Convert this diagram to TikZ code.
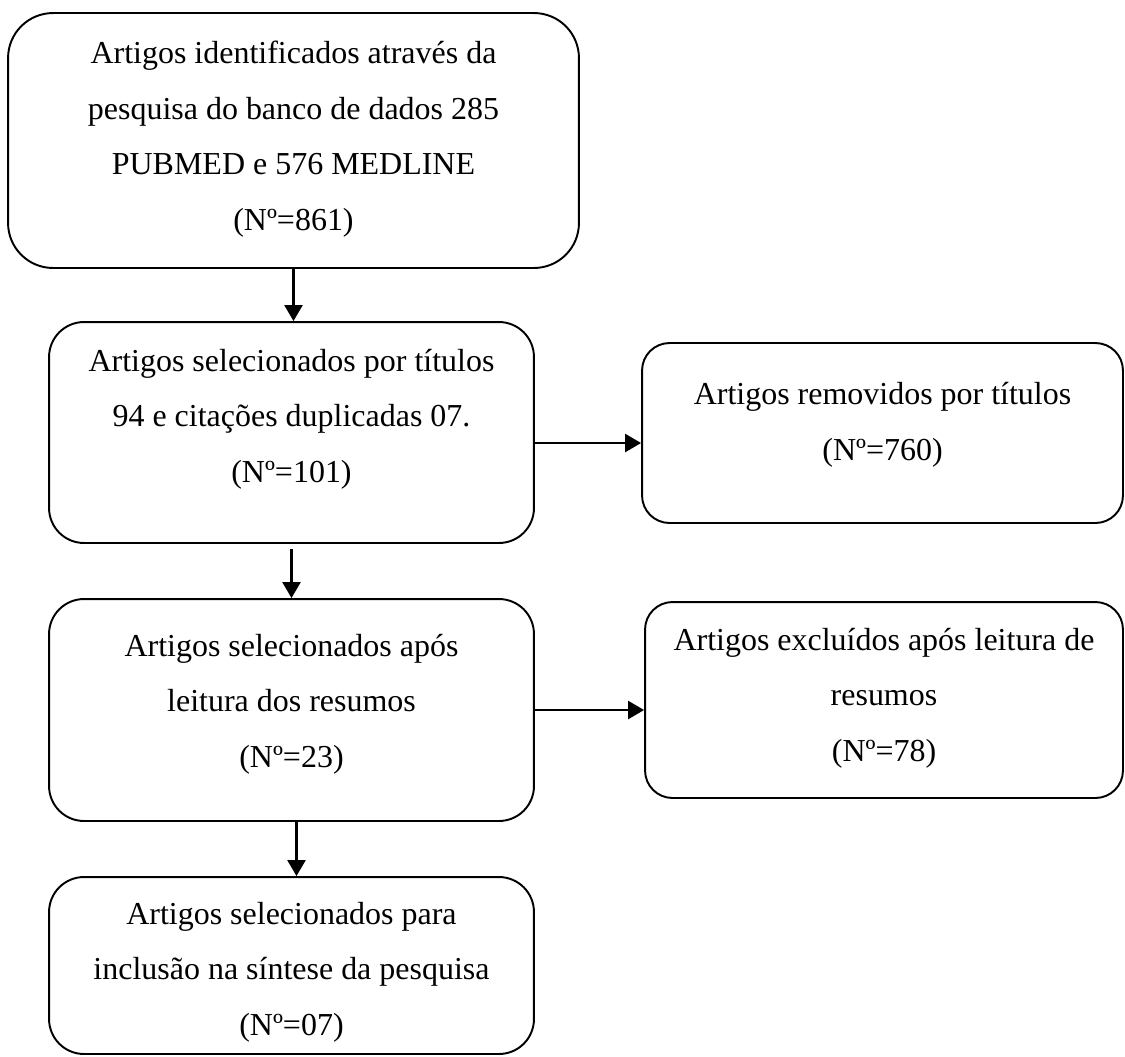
\documentclass[tikz,border=0pt]{standalone}
\usepackage{fontspec}
\setmainfont{Liberation Serif}
\usetikzlibrary{arrows.meta}
\begin{document}
\begin{tikzpicture}[x=0.02cm,y=-0.02cm,
box/.style={draw,line width=1.1pt,rounded corners=0.7cm,inner sep=0pt},
txt/.style={align=center,inner sep=0pt,font=\fontsize{18.2}{31.6}\selectfont},
arr/.style={-{Triangle[length=0.32cm,width=0.36cm]},line width=1.4pt}]
\useasboundingbox(0,0)rectangle(1125,1056);
\node[box,rounded corners=0.9cm,minimum width=11.42cm,minimum height=5.1cm](b1)at(293.5,140.5){};
\node[box,minimum width=9.7cm,minimum height=4.42cm](b2)at(291.5,432.5){};
\node[box,rounded corners=0.55cm,minimum width=9.62cm,minimum height=3.6cm](b3)at(882.5,433){};
\node[box,minimum width=9.7cm,minimum height=4.44cm](b4)at(291.5,710){};
\node[box,rounded corners=0.55cm,minimum width=9.56cm,minimum height=3.92cm](b5)at(884,700){};
\node[box,minimum width=9.7cm,minimum height=3.54cm](b6)at(291.5,965.5){};
\node[txt](t1)at(293.5,139){Artigos identificados através da\\pesquisa do banco de dados 285\\PUBMED e 576 MEDLINE\\(Nº=861)};
\node[txt](t2)at(291.5,419){Artigos selecionados por títulos\\94 e citações duplicadas 07.\\(Nº=101)};
\node[txt](t3)at(882.5,425){Artigos removidos por títulos\\(Nº=760)};
\node[txt](t4)at(291.5,704){Artigos selecionados após\\leitura dos resumos\\(Nº=23)};
\node[txt](t5)at(884,698){Artigos excluídos após leitura de\\resumos\\(Nº=78)};
\node[txt](t6)at(291.5,972){Artigos selecionados para\\inclusão na síntese da pesquisa\\(Nº=07)};
\draw[arr](b1.south)--(b1.south|-b2.north);
\draw[arr,shorten <=0.1cm](b2.south)--(b4.north);
\draw[arr]([xshift=0.1cm]b4.south)--([xshift=0.1cm]b4.south|-b6.north);
\draw[arr]([yshift=-0.21cm]b2.east)--([yshift=-0.21cm]b2.east-|b3.west);
\draw[arr](b4.east)--(b4.east-|b5.west);
\end{tikzpicture}
\end{document}
